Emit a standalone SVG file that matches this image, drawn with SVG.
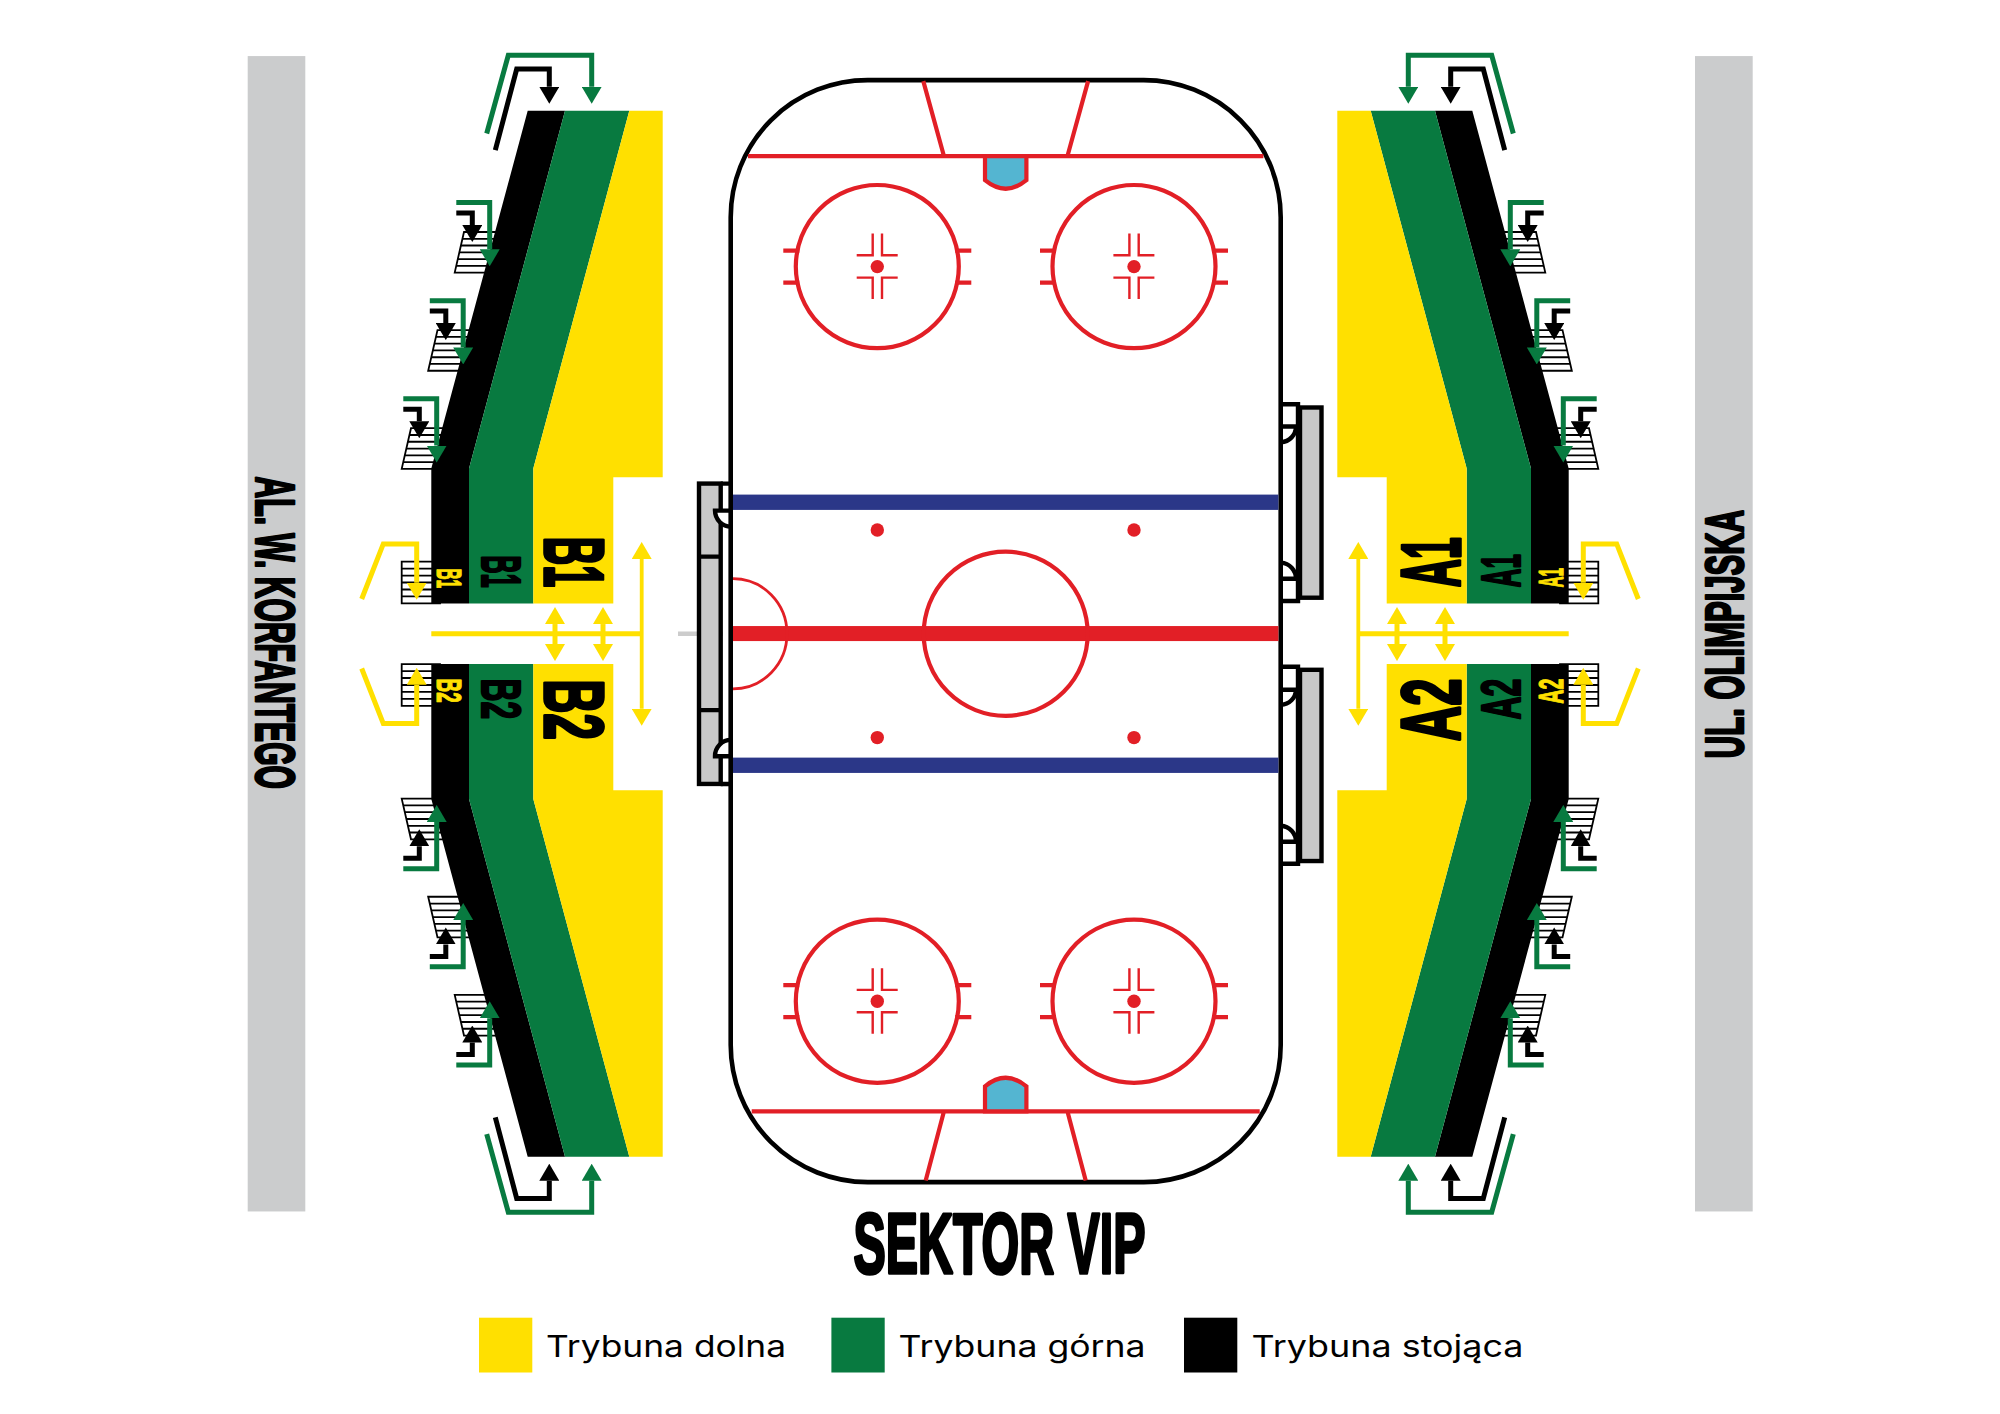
<svg xmlns="http://www.w3.org/2000/svg" xmlns:xlink="http://www.w3.org/1999/xlink" width="2000" height="1414" viewBox="0 0 2000 1414">
<style>
.y{fill:#ffe000}.g{fill:#087a40}.k{fill:#000}
.hv{font-family:"Liberation Sans Narrow","Liberation Sans",sans-serif;font-weight:700;stroke-linejoin:round}
.dk{fill:#000;stroke:#000;stroke-width:2.6}
.big{stroke-width:3.6}
.mid{stroke-width:2.4}
.yt{fill:#ffe000;stroke:#ffe000;stroke-width:1.2}
.lg{font-family:"Inter","Noto Sans",sans-serif;font-size:30px;fill:#000}
.st{fill:#fff;stroke:#000;stroke-width:1.8}
.ln{fill:none;stroke-linejoin:miter}
.ay{stroke:#ffe000;stroke-width:5}
.ag{stroke:#087a40;stroke-width:5}
.ak{stroke:#000;stroke-width:5}
.r{fill:none;stroke:#e21f26;stroke-width:4.200}
.r2{fill:none;stroke:#e21f26;stroke-width:2.400}
.b{fill:none;stroke:#000;stroke-width:4.400}
.bg{fill:#c8c8c8;stroke:#000;stroke-width:4.400}
.d{fill:#fff;stroke:#000;stroke-width:4.400}
.crease{fill:#54b5d1;stroke:#e21f26;stroke-width:4.200}
</style>
<defs>
<marker id="mY" markerUnits="userSpaceOnUse" viewBox="0 0 17 20" refX="0" refY="10" markerWidth="17" markerHeight="20" orient="auto-start-reverse"><path d="M0,0L17,10L0,20Z" fill="#ffe000"/></marker>
<marker id="mG" markerUnits="userSpaceOnUse" viewBox="0 0 17 20" refX="0" refY="10" markerWidth="17" markerHeight="20" orient="auto"><path d="M0,0L17,10L0,20Z" fill="#087a40"/></marker>
<marker id="mK" markerUnits="userSpaceOnUse" viewBox="0 0 17 20" refX="0" refY="10" markerWidth="17" markerHeight="20" orient="auto"><path d="M0,0L17,10L0,20Z" fill="#000"/></marker>
<g id="stair">
<polygon class="st" points="401.700,468.300 411,427.700 450,427.700 450,468.300"/>
<path class="st" d="M409.500,434.500H450M408,441.200H450M406.500,448H450M405,454.800H450M403.500,461.500H450"/>
</g>
<g id="stand">
<use xlink:href="#stair"/>
<use xlink:href="#stair" transform="translate(26.500,-98)"/>
<use xlink:href="#stair" transform="translate(53,-196)"/>
<path class="st" d="M401.700,561H440V602.700H401.700ZM401.700,568H440M401.700,574.900H440M401.700,581.800H440M401.700,588.800H440M401.700,595.700H440"/>
<polygon class="k" points="527.700,110.700 565,110.700 469,468 469,602.700 431.300,602.700 431.300,468"/>
<polygon class="g" points="565,110.700 629.300,110.700 533.300,468 533.300,602.700 469,602.700 469,468"/>
<polygon class="y" points="629.300,110.700 662.700,110.700 662.700,476.700 613.300,476.700 613.300,602.700 533.300,602.700 533.300,468"/>
</g>
<g id="stairArrows">
<path class="ln ag" d="M403.300,398.300H436.700V445" marker-end="url(#mG)"/>
<path class="ln ak" d="M403.300,408.700H419.300V420.700" marker-end="url(#mK)"/>
</g>
<g id="arrowsQuarter">
<path class="ln ag" d="M486.700,133.300L508.300,55.300H591.700V86.700" marker-end="url(#mG)"/>
<path class="ln ak" d="M495.300,150L516.700,69H549.300V86.700" marker-end="url(#mK)"/>
<use xlink:href="#stairArrows"/>
<use xlink:href="#stairArrows" transform="translate(26.500,-98)"/>
<use xlink:href="#stairArrows" transform="translate(53,-196)"/>
<path class="ln ay" d="M361.700,598.300L383.300,543.300H416.700V582" marker-end="url(#mY)"/>
</g>
<g id="arrowsMid">
<path class="ln ay" d="M431.300,633H641.700"/>
<path class="ln" stroke="#ffe000" stroke-width="3.800" d="M641.700,558.300V708" marker-start="url(#mY)" marker-end="url(#mY)"/>
<path class="ln ay" d="M555,623.300V643.300" marker-start="url(#mY)" marker-end="url(#mY)"/>
<path class="ln ay" d="M603,623.300V643.300" marker-start="url(#mY)" marker-end="url(#mY)"/>
</g>
<g id="faceoff">
<circle class="r" r="81.500"/>
<path class="r" d="M-94,-16H-78M78,-16H94M-94,16H-78M78,16H94"/>
<path class="r2" d="M-20.600,-11.300H-4.600V-33M4.700,-33V-11.300H20.400M-20.600,11H-4.600V32.400M4.700,32.400V11H20.400"/>
<circle r="6.700" fill="#e21f26"/>
</g>
</defs>
<rect width="2000" height="1414" fill="#fff"/>

<g id="plan" transform="matrix(1 0 0 1.0012 0 0)">
<g id="street-korfantego">
<rect x="247.700" y="56" width="57.600" height="1154" fill="#cbcccd"/>
<text class="hv dk" font-size="55" transform="translate(256,476) rotate(90)" textLength="312" lengthAdjust="spacingAndGlyphs">AL. W. KORFANTEGO</text>
</g>
<g id="street-olimpijska">
<rect x="1695" y="56" width="57.700" height="1154" fill="#cbcccd"/>
<text class="hv dk" font-size="54" transform="translate(1743.300,757.300) rotate(-90)" textLength="248" lengthAdjust="spacingAndGlyphs">UL. OLIMPIJSKA</text>
</g>

<g id="stand-B1">
<use xlink:href="#stand"/>
<text class="hv dk big" font-size="84" transform="translate(544.800,536) rotate(90)" textLength="50.500" lengthAdjust="spacingAndGlyphs">B1</text>
<text class="hv dk mid" font-size="56" transform="translate(482,554.500) rotate(90)" textLength="32.500" lengthAdjust="spacingAndGlyphs">B1</text>
<text class="hv yt" font-size="35" transform="translate(436.500,567.800) rotate(90)" textLength="19.700" lengthAdjust="spacingAndGlyphs">B1</text>
</g>
<g id="stand-B2">
<use xlink:href="#stand" transform="matrix(1 0 0 -1 0 1266)"/>
<text class="hv dk big" font-size="84" transform="translate(544.800,678.500) rotate(90)" textLength="60.500" lengthAdjust="spacingAndGlyphs">B2</text>
<text class="hv dk mid" font-size="56" transform="translate(482,677.800) rotate(90)" textLength="40.500" lengthAdjust="spacingAndGlyphs">B2</text>
<text class="hv yt" font-size="35" transform="translate(436.500,677.800) rotate(90)" textLength="24" lengthAdjust="spacingAndGlyphs">B2</text>
</g>
<g id="stand-A1">
<use xlink:href="#stand" transform="matrix(-1 0 0 1 2000 0)"/>
<text class="hv dk big" font-size="84" transform="translate(1459.500,586.500) rotate(-90)" textLength="50" lengthAdjust="spacingAndGlyphs">A1</text>
<text class="hv dk mid" font-size="56" transform="translate(1519.600,586.500) rotate(-90)" textLength="33" lengthAdjust="spacingAndGlyphs">A1</text>
<text class="hv yt" font-size="35" transform="translate(1562.800,586.800) rotate(-90)" textLength="19.600" lengthAdjust="spacingAndGlyphs">A1</text>
</g>
<g id="stand-A2">
<use xlink:href="#stand" transform="matrix(-1 0 0 -1 2000 1266)"/>
<text class="hv dk big" font-size="84" transform="translate(1459.500,740.300) rotate(-90)" textLength="62.500" lengthAdjust="spacingAndGlyphs">A2</text>
<text class="hv dk mid" font-size="56" transform="translate(1519.600,718.600) rotate(-90)" textLength="40.800" lengthAdjust="spacingAndGlyphs">A2</text>
<text class="hv yt" font-size="35" transform="translate(1562.800,702.800) rotate(-90)" textLength="25" lengthAdjust="spacingAndGlyphs">A2</text>
</g>

<g id="bench-left">
<path d="M678,633H723" stroke="#ccc" stroke-width="4.500"/>
<rect class="bg" x="699" y="483" width="21.700" height="300"/>
<path class="b" d="M699,556H720.700M699,709.300H720.700M720.700,483H731M720.700,783H731"/>
<path class="d" d="M731,510H715A16,16 0 0 0 731,526"/>
<path class="d" d="M731,755.300H715A16,16 0 0 1 731,739"/>
</g>
<g id="bench-right-1">
<rect class="bg" x="1300" y="407" width="21.500" height="190"/>
<path class="b" d="M1281,403.700H1298V600.300H1281"/>
<path class="d" d="M1281,426H1296A15.800,15.800 0 0 1 1281,441.700"/>
<path class="d" d="M1281,578H1296A16,16 0 0 0 1281,562"/>
</g>
<g id="bench-right-2">
<rect class="bg" x="1300" y="669" width="21.500" height="191"/>
<path class="b" d="M1281,666H1298V862.700H1281"/>
<path class="d" d="M1281,689H1296A15.500,15.500 0 0 1 1281,704"/>
<path class="d" d="M1281,840.700H1296A16,16 0 0 0 1281,824.700"/>
</g>

<g id="rink">
<rect x="730.700" y="80" width="550" height="1100.700" rx="137" ry="137" fill="#fff" stroke="#000" stroke-width="4.600"/>
<path class="r" d="M748,156H1263.400M751.700,1110H1259.700M923.300,81L944,156M1088.100,81L1067.400,156M944,1110L925.700,1179M1067.400,1110L1085.700,1179"/>
<path class="crease" d="M985,156V180Q1005.700,197 1026.400,180V156Z"/>
<path class="crease" d="M985,1110V1085Q1005.700,1068 1026.400,1085V1110Z"/>
<use xlink:href="#faceoff" x="877.300" y="266.300"/>
<use xlink:href="#faceoff" x="1134" y="266.300"/>
<use xlink:href="#faceoff" x="877.300" y="1000"/>
<use xlink:href="#faceoff" x="1134" y="1000"/>
<rect x="733" y="494" width="545.400" height="15.300" fill="#2b3788"/>
<rect x="733" y="756.700" width="545.400" height="15.300" fill="#2b3788"/>
<rect x="733" y="625.300" width="545.400" height="15" fill="#e21f26"/>
<circle class="r" cx="1005.700" cy="633" r="82"/>
<path d="M733,578A54,55 0 0 1 733,688" fill="none" stroke="#e21f26" stroke-width="2.800"/>
<circle cx="877.300" cy="529.300" r="6.700" fill="#e21f26"/>
<circle cx="1134" cy="529.300" r="6.700" fill="#e21f26"/>
<circle cx="877.300" cy="736.700" r="6.700" fill="#e21f26"/>
<circle cx="1134" cy="736.700" r="6.700" fill="#e21f26"/>
</g>

<g id="connectors">
<use xlink:href="#arrowsQuarter"/>
<use xlink:href="#arrowsQuarter" transform="matrix(1 0 0 -1 0 1266)"/>
<use xlink:href="#arrowsQuarter" transform="matrix(-1 0 0 1 2000 0)"/>
<use xlink:href="#arrowsQuarter" transform="matrix(-1 0 0 -1 2000 1266)"/>
<use xlink:href="#arrowsMid"/>
<use xlink:href="#arrowsMid" transform="matrix(-1 0 0 1 2000 0)"/>
</g>
</g>

<g id="sektor-vip">
<text class="hv dk big" font-size="86" x="853.500" y="1272.500" textLength="292" lengthAdjust="spacingAndGlyphs">SEKTOR VIP</text>
</g>
<g id="legend-dolna">
<rect class="y" x="479" y="1317.700" width="53.300" height="54.800"/>
<text class="lg" x="546" y="1356.500" textLength="240" lengthAdjust="spacingAndGlyphs">Trybuna dolna</text>
</g>
<g id="legend-gorna">
<rect class="g" x="831.400" y="1317.700" width="53.300" height="54.800"/>
<text class="lg" x="898.500" y="1356.500" textLength="247" lengthAdjust="spacingAndGlyphs">Trybuna górna</text>
</g>
<g id="legend-stojaca">
<rect class="k" x="1184" y="1317.700" width="53.300" height="54.800"/>
<text class="lg" x="1251.500" y="1356.500" textLength="272" lengthAdjust="spacingAndGlyphs">Trybuna stojąca</text>
</g>
</svg>
